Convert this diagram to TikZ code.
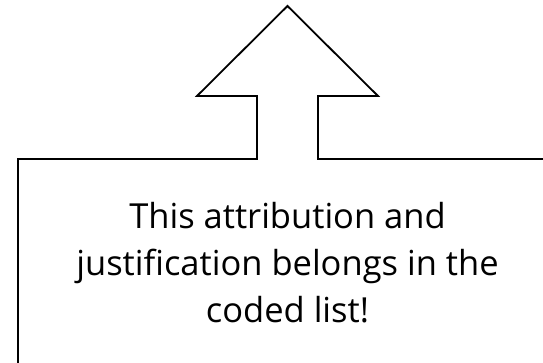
\documentclass[tikz,border=0pt]{standalone}
\usepackage{fontspec}
\setmainfont{Open Sans}
\begin{document}
\begin{tikzpicture}[x=1pt,y=-1pt,
  outline/.style={draw=black,line width=1.8pt,line join=miter},
  txt/.style={anchor=base,inner sep=0pt,font=\fontsize{34.5}{40}\selectfont}]
\useasboundingbox (0,0) rectangle (543,363);
\clip (0,0) rectangle (543,363);
\draw[outline] (18,390) -- (18,159) -- (257,159) -- (257,96) -- (197,96)
  -- (287.5,6) -- (378,96) -- (318,96) -- (318,159) -- (557,159) -- (557,390) -- cycle;
\node[txt] (t1) at (287.5,229) {This attribution and};
\node[txt] (t2) at (287.5,276) {justification belongs in the};
\node[txt] (t3) at (287.5,322) {coded list!};
\end{tikzpicture}
\end{document}
